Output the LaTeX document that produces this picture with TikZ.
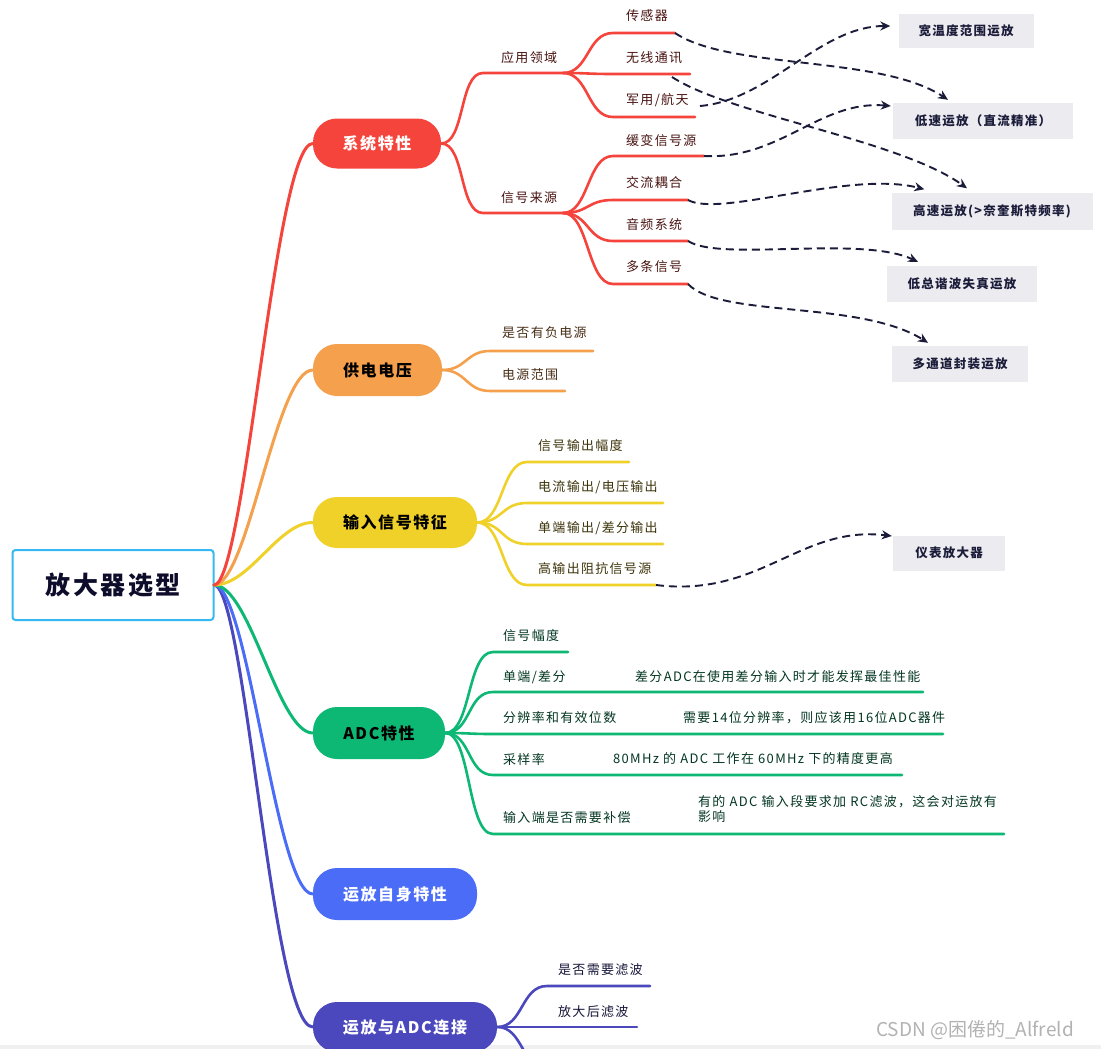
\documentclass[tikz,border=0pt]{standalone}
\usepackage{fontspec}
\setmainfont{Noto Sans CJK SC}
\newfontfamily\lsfont{Noto Sans CJK SC}[LetterSpace=10]
\usetikzlibrary{arrows.meta,calc}
\definecolor{cred}{HTML}{F5443C}
\definecolor{corange}{HTML}{F5A04C}
\definecolor{cyellow}{HTML}{F0D12A}
\definecolor{cgreen}{HTML}{0DB874}
\definecolor{cblue}{HTML}{4A6CF7}
\definecolor{cindigo}{HTML}{4B48BD}
\definecolor{croot}{HTML}{35B9F2}
\definecolor{cgraybox}{HTML}{ECEBEF}
\definecolor{cdash}{HTML}{1B1C3A}
\definecolor{troot}{HTML}{0D0D2B}
\begin{document}
\begin{tikzpicture}[x=1pt,y=-1pt,
  br/.style={line width=3pt, line cap=round},
  sub/.style={line width=2.6pt, line cap=round},
  pill/.style={rounded corners=24pt, inner sep=0pt, font=\lsfont\bfseries\fontsize{16}{18}\selectfont},
  lbl/.style={anchor=west, inner sep=0pt, font=\lsfont\fontsize{13}{15}\selectfont},
  gbox/.style={fill=cgraybox, minimum height=36pt, inner sep=0pt, text=cdash, font=\lsfont\bfseries\fontsize{12.5}{14}\selectfont},
  dar/.style={cdash, line width=1.9pt, dash pattern=on 8pt off 5pt, -{Stealth[length=10pt,width=9pt]}},
]
\useasboundingbox (0,0) rectangle (1101,1049);
\fill[white] (0,0) rectangle (1101,1049);
\fill[gray!12] (0,1045) rectangle (1101,1049);

% root
\node[draw=croot, line width=2pt, rounded corners=3pt, minimum width=201pt, minimum height=70pt,
      text=troot, font=\lsfont\bfseries\fontsize{25}{28}\selectfont] (root) at (113,585) {放大器选型};
\coordinate (rc) at (214,585);

% main pills
\node[pill, fill=cred, text=white, minimum width=128pt, minimum height=50pt] (sys) at (377,143.5) {系统特性};
\node[pill, fill=corange, text=black, minimum width=129pt, minimum height=52pt] (sup) at (377.5,370) {供电电压};
\node[pill, fill=cyellow, text=black, minimum width=164pt, minimum height=51pt] (inp) at (395,522.5) {输入信号特征};
\node[pill, fill=cgreen, text=black, minimum width=132pt, minimum height=52pt] (adc) at (379,733) {ADC特性};
\node[pill, fill=cblue, text=white, minimum width=164pt, minimum height=52pt] (op) at (395,894) {运放自身特性};
\node[pill, fill=cindigo, text=white, minimum width=184pt, minimum height=50pt] (conn) at (405,1027) {运放与ADC连接};

% root branches
\draw[br,cindigo] (rc) .. controls (245,585) and (272,1027) .. (conn.west);
\draw[br,cblue] (rc) .. controls (248,585) and (276,894) .. (op.west);
\draw[br,cgreen] (rc) .. controls (250,585) and (278,733) .. (adc.west);
\draw[br,cyellow] (rc) .. controls (250,585) and (278,522.5) .. (inp.west);
\draw[br,corange] (rc) .. controls (248,585) and (276,370) .. (sup.west);
\draw[br,cred] (rc) .. controls (245,585) and (275,143.5) .. (sys.west);

% ---------- system
\coordinate (s1a) at (483,73);  \coordinate (s1b) at (563,73);
\coordinate (s2a) at (483,213); \coordinate (s2b) at (563,213);
\draw[sub,cred] (sys.east) .. controls +(24,0) and +(-24,0) .. (s1a) -- (s1b);
\draw[sub,cred] (sys.east) .. controls +(24,0) and +(-24,0) .. (s2a) -- (s2b);
\node[lbl, text=cred!30!black] (s1t) at (501,58) {应用领域};
\node[lbl, text=cred!30!black] (s2t) at (501,198) {信号来源};

\coordinate (c11a) at (613,33);  \coordinate (c11b) at (675,33);
\coordinate (c12a) at (613,74);  \coordinate (c12b) at (690,74);
\coordinate (c13a) at (613,117); \coordinate (c13b) at (695,117);
\coordinate (c21a) at (613,156); \coordinate (c21b) at (704,156);
\coordinate (c22a) at (613,200); \coordinate (c22b) at (688,200);
\coordinate (c23a) at (613,241); \coordinate (c23b) at (688,241);
\coordinate (c24a) at (613,284); \coordinate (c24b) at (688,284);
\foreach \p/\c in {s1b/c11, s1b/c12, s1b/c13, s2b/c21, s2b/c22, s2b/c23, s2b/c24}
  \draw[sub,cred] (\p) .. controls +(26,0) and +(-26,0) .. (\c a) -- (\c b);
\node[lbl, text=cred!30!black] (c11t) at (626,16) {传感器};
\node[lbl, text=cred!30!black] (c12t) at (626,58) {无线通讯};
\node[lbl, text=cred!30!black] (c13t) at (626,100) {军用/航天};
\node[lbl, text=cred!30!black] (c21t) at (626,141) {缓变信号源};
\node[lbl, text=cred!30!black] (c22t) at (626,183) {交流耦合};
\node[lbl, text=cred!30!black] (c23t) at (626,225) {音频系统};
\node[lbl, text=cred!30!black] (c24t) at (626,267) {多条信号};

% ---------- supply
\coordinate (p1a) at (490,351); \coordinate (p1b) at (593,351);
\coordinate (p2a) at (490,391); \coordinate (p2b) at (565,391);
\draw[sub,corange] (sup.east) .. controls +(24,0) and +(-24,0) .. (p1a) -- (p1b);
\draw[sub,corange] (sup.east) .. controls +(24,0) and +(-24,0) .. (p2a) -- (p2b);
\node[lbl, text=corange!30!black] (p1t) at (502,333) {是否有负电源};
\node[lbl, text=corange!30!black] (p2t) at (502,375) {电源范围};

% ---------- input
\coordinate (i1a) at (527,462); \coordinate (i1b) at (629,462);
\coordinate (i2a) at (527,503); \coordinate (i2b) at (663,503);
\coordinate (i3a) at (527,544); \coordinate (i3b) at (663,544);
\coordinate (i4a) at (527,585); \coordinate (i4b) at (656,585);
\foreach \c in {i1,i2,i3,i4}
  \draw[sub,cyellow] (inp.east) .. controls +(26,0) and +(-26,0) .. (\c a) -- (\c b);
\node[lbl, text=cyellow!25!black] (i1t) at (538,446) {信号输出幅度};
\node[lbl, text=cyellow!25!black] (i2t) at (538,487) {电流输出/电压输出};
\node[lbl, text=cyellow!25!black] (i3t) at (538,528) {单端输出/差分输出};
\node[lbl, text=cyellow!25!black] (i4t) at (538,569) {高输出阻抗信号源};

% ---------- ADC
\coordinate (a1a) at (493,652); \coordinate (a1b) at (568,652);
\coordinate (a2a) at (493,692); \coordinate (a2b) at (923,692);
\coordinate (a3a) at (493,734); \coordinate (a3b) at (943,734);
\coordinate (a4a) at (493,775); \coordinate (a4b) at (902,775);
\coordinate (a5a) at (493,834); \coordinate (a5b) at (1004,834);
\foreach \c in {a1,a2,a3,a4,a5}
  \draw[sub,cgreen] (adc.east) .. controls +(26,0) and +(-26,0) .. (\c a) -- (\c b);
\node[lbl, text=cgreen!30!black] (a1t) at (503,636) {信号幅度};
\node[lbl, text=cgreen!30!black] (a2t) at (503,677) {单端/差分};
\node[lbl, text=cgreen!30!black] (a3t) at (503,718) {分辨率和有效位数};
\node[lbl, text=cgreen!30!black] (a4t) at (503,760) {采样率};
\node[lbl, text=cgreen!30!black] (a5t) at (503,818) {输入端是否需要补偿};
\node[lbl, text=cgreen!30!black] (a2n) at (635,677) {差分ADC在使用差分输入时才能发挥最佳性能};
\node[lbl, text=cgreen!30!black] (a3n) at (683,718) {需要14位分辨率，则应该用16位ADC器件};
\node[lbl, text=cgreen!30!black] (a4n) at (613,759) {80MHz 的 ADC 工作在 60MHz 下的精度更高};
\node[lbl, text=cgreen!30!black, align=left] (a5n) at (698,809) {有的 ADC 输入段要求加 RC滤波，这会对运放有\\影响};

% ---------- connection
\coordinate (n1a) at (547,986);  \coordinate (n1b) at (650,986);
\coordinate (n2a) at (547,1027); \coordinate (n2b) at (637,1027);
\coordinate (n3a) at (547,1068); \coordinate (n3b) at (640,1068);
\foreach \c in {n1,n2,n3}
  \draw[sub,cindigo] (conn.east) .. controls +(26,0) and +(-26,0) .. (\c a) -- (\c b);
\node[lbl, text=cindigo!30!black] (n1t) at (558,970) {是否需要滤波};
\node[lbl, text=cindigo!30!black] (n2t) at (558,1012) {放大后滤波};

% ---------- gray boxes
\node[gbox, minimum width=135pt, minimum height=34pt] (wide) at (966,31) {宽温度范围运放};
\node[gbox, minimum width=180pt] (lowspd) at (983,121) {低速运放（直流精准）};
\node[gbox, minimum width=201pt, minimum height=37pt] (highspd) at (992,211) {高速运放(>奈奎斯特频率)};
\node[gbox, minimum width=150pt] (thd) at (962,284) {低总谐波失真运放};
\node[gbox, minimum width=136pt] (multi) at (960,364) {多通道封装运放};
\node[gbox, minimum width=112pt, minimum height=35pt] (inamp) at (949,553) {仪表放大器};

% ---------- dashed arrows
\draw[dar] (c11b) .. controls (730,70) and (880,55) .. ($(lowspd.north)+(-35,-3)$);
\draw[dar] ($(c12b)+(-18,3)$) .. controls (730,115) and (900,140) .. ($(highspd.north)+(-25,-4)$);
\draw[dar] ($(c13b)+(5,-11)$) .. controls (770,100) and (820,26) .. ($(wide.west)+(-8,-5)$);
\draw[dar] (c21b) .. controls (780,160) and (820,100) .. ($(lowspd.west)+(-2,-15)$);
\draw[dar] (c22b) .. controls (720,218) and (850,170) .. ($(highspd.north west)+(33,-3)$);
\draw[dar] (c23b) .. controls (720,262) and (860,235) .. ($(thd.north)+(-44,-4)$);
\draw[dar] (c24b) .. controls (720,318) and (860,300) .. ($(multi.north)+(-32,-3)$);
\draw[dar] (i4b) .. controls (760,598) and (800,525) .. ($(inamp.west)+(-1,-17)$);

% watermark
\node[text=gray!60, font=\fontsize{19}{21}\selectfont, inner sep=0pt] (wm) at (975,1030) {CSDN @困倦的\_Alfreld};
\end{tikzpicture}
\end{document}
